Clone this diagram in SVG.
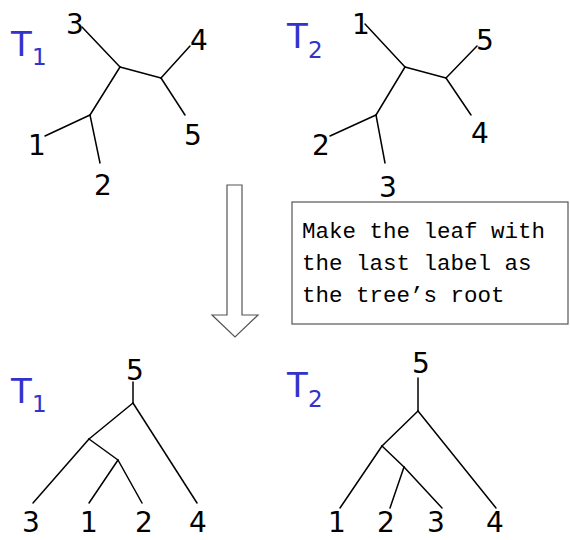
<svg xmlns="http://www.w3.org/2000/svg" width="570" height="540" viewBox="0 0 570 540">
<style>
.e{stroke:#000;stroke-width:1.5;fill:none;stroke-linecap:round}
.n{font-family:"DejaVu Sans",Verdana,sans-serif;font-size:28px;fill:#000;text-anchor:middle}
.t{font-family:"DejaVu Sans",Verdana,sans-serif;font-size:34px;fill:#3333cc}
.s{font-family:"DejaVu Sans",Verdana,sans-serif;font-size:23px;fill:#3333cc}
.b{font-family:"Liberation Mono","DejaVu Sans Mono",monospace;font-size:22.5px;fill:#000}
</style>
<rect width="570" height="540" fill="#fff"/>
<g id="connectors">
<g id="edges-t1-top">
<line class="e" x1="82" y1="27" x2="120" y2="67"/>
<line class="e" x1="120" y1="67" x2="161" y2="78"/>
<line class="e" x1="161" y1="78" x2="190" y2="46"/>
<line class="e" x1="161" y1="78" x2="185" y2="115"/>
<line class="e" x1="120" y1="67" x2="90" y2="115"/>
<line class="e" x1="90" y1="115" x2="45" y2="136"/>
<line class="e" x1="90" y1="115" x2="100" y2="163"/>
</g>
<g id="edges-t2-top">
<line class="e" x1="365" y1="24" x2="405" y2="67"/>
<line class="e" x1="405" y1="67" x2="446" y2="78"/>
<line class="e" x1="446" y1="78" x2="477" y2="46"/>
<line class="e" x1="446" y1="78" x2="471" y2="115"/>
<line class="e" x1="405" y1="67" x2="376" y2="115"/>
<line class="e" x1="376" y1="115" x2="330" y2="136"/>
<line class="e" x1="376" y1="115" x2="385" y2="163"/>
</g>
<g id="edges-t1-bottom">
<line class="e" x1="133" y1="382" x2="133" y2="403"/>
<line class="e" x1="133" y1="403" x2="197" y2="503"/>
<line class="e" x1="133" y1="403" x2="89" y2="439"/>
<line class="e" x1="89" y1="439" x2="33" y2="503"/>
<line class="e" x1="89" y1="439" x2="118" y2="460"/>
<line class="e" x1="118" y1="460" x2="89" y2="503"/>
<line class="e" x1="118" y1="460" x2="142" y2="503"/>
</g>
<g id="edges-t2-bottom">
<line class="e" x1="418" y1="378" x2="418" y2="411"/>
<line class="e" x1="418" y1="411" x2="496" y2="508"/>
<line class="e" x1="418" y1="411" x2="382" y2="446"/>
<line class="e" x1="382" y1="446" x2="340" y2="508"/>
<line class="e" x1="382" y1="446" x2="404" y2="467"/>
<line class="e" x1="404" y1="467" x2="390" y2="508"/>
<line class="e" x1="404" y1="467" x2="442" y2="508"/>
</g>
<g id="arrow">
<path d="M227,185 H242 V315 H258 L235,337 L212,315 H227 Z" fill="#fff" stroke="#555" stroke-width="1.2"/>
</g>
</g>
<g id="t1-top">
<text class="t" x="11" y="56">T</text><text class="s" x="32" y="65">1</text>
<text class="n" x="75" y="34">3</text>
<text class="n" x="199" y="50">4</text>
<text class="n" x="193" y="145">5</text>
<text class="n" x="37" y="155">1</text>
<text class="n" x="103" y="195">2</text>
</g>
<g id="t2-top">
<text class="t" x="287" y="48">T</text><text class="s" x="308" y="58">2</text>
<text class="n" x="361" y="34">1</text>
<text class="n" x="485" y="50">5</text>
<text class="n" x="480" y="143">4</text>
<text class="n" x="321" y="155">2</text>
<text class="n" x="388" y="197">3</text>
</g>
<g id="note">
<rect x="292" y="202" width="276" height="122" fill="#fff" stroke="#555" stroke-width="1.2"/>
<text class="b" x="302" y="238">Make the leaf with</text>
<text class="b" x="302" y="270">the last label as</text>
<text class="b" x="302" y="302">the tree’s root</text>
</g>
<g id="t1-bottom">
<text class="t" x="11" y="403">T</text><text class="s" x="32" y="412">1</text>
<text class="n" x="135" y="380">5</text>
<text class="n" x="31" y="532">3</text>
<text class="n" x="89" y="532">1</text>
<text class="n" x="144" y="532">2</text>
<text class="n" x="198" y="532">4</text>
</g>
<g id="t2-bottom">
<text class="t" x="287" y="397">T</text><text class="s" x="308" y="407">2</text>
<text class="n" x="421" y="373">5</text>
<text class="n" x="337" y="532">1</text>
<text class="n" x="386" y="532">2</text>
<text class="n" x="436" y="532">3</text>
<text class="n" x="495" y="532">4</text>
</g>
</svg>
